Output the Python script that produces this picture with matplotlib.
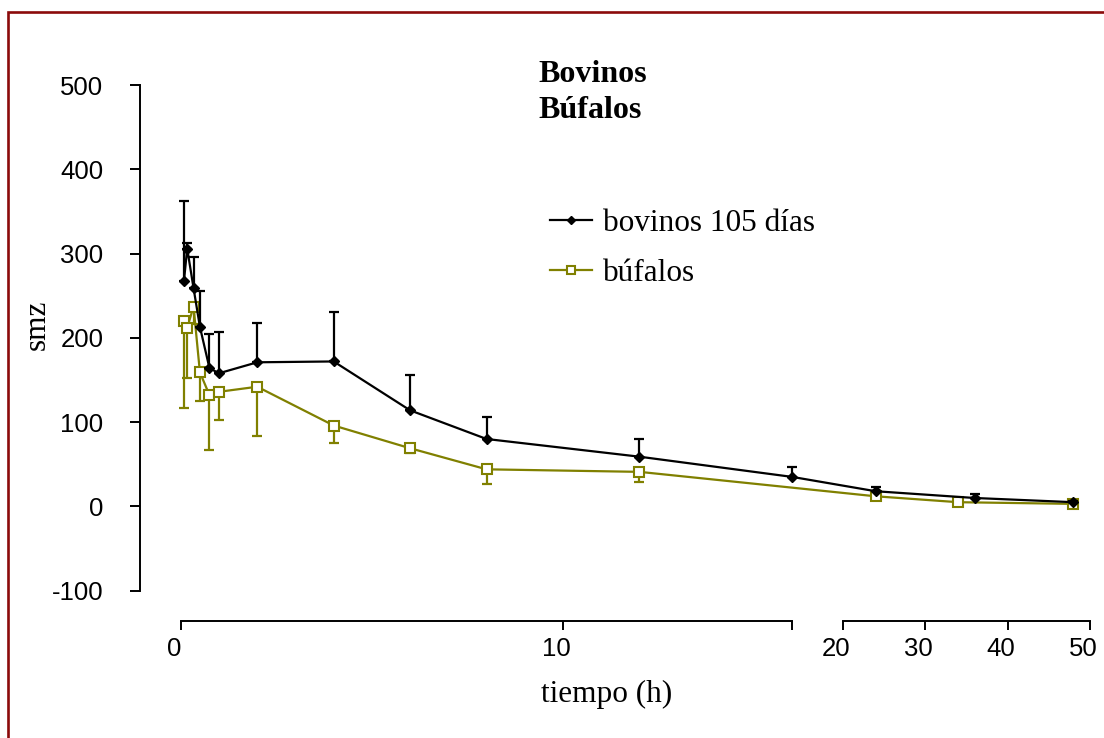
import numpy as np
import matplotlib
matplotlib.use("Agg")
import matplotlib.pyplot as plt
from matplotlib.patches import Rectangle
from matplotlib.spines import Spine
from matplotlib.ticker import FixedLocator, FixedFormatter, NullLocator
from matplotlib.transforms import ScaledTranslation

# ── Data: sulfametazina (smz) plasma levels over time ─────────────────────────
tiempo_bov = [0.083, 0.167, 0.333, 0.5, 0.75, 1, 2, 4, 6, 8, 12, 16, 24, 36, 48]
smz_bov = [268, 306, 259, 213, 164, 158, 171, 172, 114, 80, 59, 35, 18, 10, 5]
sd_bov = [94, 7, 37, 43, 41, 49, 47, 59, 42, 26, 21, 12, 5, 5, 1]

tiempo_buf = [0.083, 0.167, 0.333, 0.5, 0.75, 1, 2, 4, 6, 8, 12, 24, 34, 48]
smz_buf = [220, 212, 237, 159, 132, 136, 142, 96, 69, 44, 41, 12, 5, 3]
sd_buf = [103, 60, 20, 34, 65, 33, 58, 21, 6, 17, 12, 3, 1, 1]

x_ticks = [0, 10, 16, 20, 30, 40, 50]
x_tick_labels = ["0", "10", "", "20", "30", "40", "50"]
y_ticks = [-100, 0, 100, 200, 300, 400, 500]

OLIVE = "#808000"
FRAME = "#8b0a0a"
SERIF = "Liberation Serif"

plt.rcParams["font.family"] = "Liberation Sans"
plt.rcParams["axes.unicode_minus"] = False

# ── Broken time axis: 0–16 h full width, 20–50 h compressed ───────────────────
BREAK_A, BREAK_B = 16.0, 20.0
GAP = 1.32       # width of the 16–20 h gap, in first-segment hours
SLOPE = 0.2157   # compression of the late segment


def fwd(t):
    t = np.asarray(t, dtype=float)
    return np.where(t <= BREAK_A, t,
                    np.where(t <= BREAK_B,
                             BREAK_A + (t - BREAK_A) * GAP / (BREAK_B - BREAK_A),
                             BREAK_A + GAP + (t - BREAK_B) * SLOPE))


def inv(u):
    u = np.asarray(u, dtype=float)
    u_b = BREAK_A + GAP
    return np.where(u <= BREAK_A, u,
                    np.where(u <= u_b,
                             BREAK_A + (u - BREAK_A) * (BREAK_B - BREAK_A) / GAP,
                             BREAK_B + (u - u_b) / SLOPE))


fig = plt.figure(figsize=(11.04, 7.38), dpi=100)
fig.patch.set_facecolor("white")

# dark red frame around the figure (open at bottom/right)
fig.patches.append(Rectangle((8 / 1104, -0.1), 1.2, 0.9837 + 0.1,
                             transform=fig.transFigure, fill=False,
                             edgecolor=FRAME, linewidth=1.9))

ax = fig.add_axes([0.1264, 0.1585, 0.8609, 0.7263])
ax.set_xscale("function", functions=(fwd, inv))
ax.set_xlim(-1.08, 50)
ax.set_ylim(-136, 500)

# ── Series ────────────────────────────────────────────────────────────────────
ax.errorbar(tiempo_buf, smz_buf, yerr=[sd_buf, np.zeros(len(sd_buf))],
            fmt="none", ecolor=OLIVE, elinewidth=1.6, capsize=3.8,
            capthick=1.6, zorder=2, clip_on=False)
l_buf, = ax.plot(tiempo_buf, smz_buf, color=OLIVE, lw=1.6, marker="s", ms=7,
                 mfc="white", mec=OLIVE, mew=1.5, zorder=3, clip_on=False,
                 label="búfalos")

ax.errorbar(tiempo_bov, smz_bov, yerr=[np.zeros(len(sd_bov)), sd_bov],
            fmt="none", ecolor="black", elinewidth=1.6, capsize=3.8,
            capthick=1.6, zorder=4, clip_on=False)
l_bov, = ax.plot(tiempo_bov, smz_bov, color="black", lw=1.6, marker="D", ms=4.8,
                 zorder=5, clip_on=False, label="bovinos 105 días")

# ── Axes styling ──────────────────────────────────────────────────────────────
for side in ("top", "right"):
    ax.spines[side].set_visible(False)
ax.spines["left"].set_bounds(-100, 500)
ax.spines["bottom"].set_bounds(0, 16)
late = Spine.linear_spine(ax, "bottom")
late.set_position(("outward", 0))
late.set_bounds(20, 50)
ax.spines["bottom_late"] = late
for name in ("left", "bottom", "bottom_late"):
    ax.spines[name].set_linewidth(1.4)
    ax.spines[name].set_color("black")

ax.xaxis.set_major_locator(FixedLocator(x_ticks))
ax.xaxis.set_major_formatter(FixedFormatter(x_tick_labels))
ax.xaxis.set_minor_locator(NullLocator())
ax.yaxis.set_major_locator(FixedLocator(y_ticks))
ax.yaxis.set_minor_locator(NullLocator())
ax.tick_params(axis="x", direction="out", length=6.5, width=1.4, pad=5, labelsize=18.5)
ax.tick_params(axis="y", direction="out", length=7, width=1.4, pad=19, labelsize=18.5)

shift = ScaledTranslation(-0.07, 0, fig.dpi_scale_trans)
for lbl in ax.xaxis.get_majorticklabels():
    lbl.set_transform(lbl.get_transform() + shift)

ax.set_xlabel("tiempo (h)", family=SERIF, fontsize=22.5)
ax.xaxis.set_label_coords(0.491, -0.110)
ax.set_ylabel("smz", family=SERIF, fontsize=22.5)
ax.yaxis.set_label_coords(-0.092, 0.552)

ax.legend(handles=[l_bov, l_buf], loc="upper left",
          bbox_to_anchor=(550 / 1104, 1 - 209 / 738), bbox_transform=fig.transFigure,
          frameon=False, prop={"family": SERIF, "size": 22.5},
          handlelength=1.35, handletextpad=0.35, labelspacing=0.68,
          borderpad=0, borderaxespad=0, numpoints=1, markerscale=0.85)

fig.text(538 / 1104, 1 - 60 / 738, "Bovinos\nBúfalos", family=SERIF,
         fontweight="bold", fontsize=23, ha="left", va="top", linespacing=1.32)

fig.savefig("out.png", dpi=100, facecolor="white")
